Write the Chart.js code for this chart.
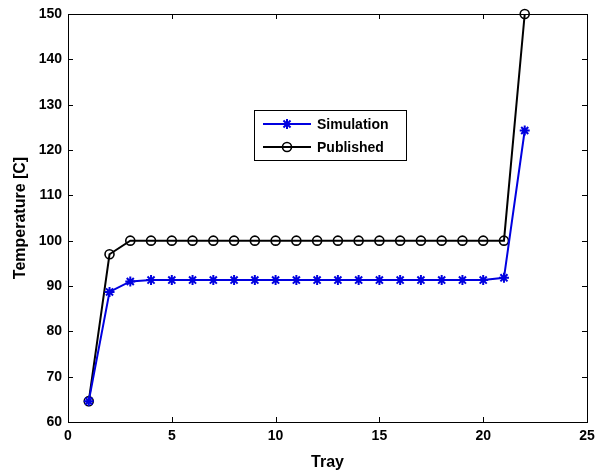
<!DOCTYPE html>
<html>
<head>
<meta charset="utf-8">
<script src="https://cdn.jsdelivr.net/npm/chart.js@4"></script>
<style>
    html, body { margin: 0; padding: 0; background: #fff; }
    canvas { display: block; }
</style>
</head>
<body>
<canvas id="chart" width="596" height="472"></canvas>
<script>
// data
const trays = [1, 2, 3, 4, 5, 6, 7, 8, 9, 10, 11, 12, 13, 14, 15, 16, 17, 18, 19, 20, 21, 22];
const simulation = [64.6, 88.7, 91.0, 91.3, 91.3, 91.3, 91.3, 91.3, 91.3, 91.3, 91.3,
    91.3, 91.3, 91.3, 91.3, 91.3, 91.3, 91.3, 91.3, 91.3, 91.8, 124.3];
const published = [64.6, 97, 100, 100, 100, 100, 100, 100, 100, 100, 100,
    100, 100, 100, 100, 100, 100, 100, 100, 100, 100, 150];
const seriesNames = ['Simulation', 'Published'];
const xTicks = [0, 5, 10, 15, 20, 25];
const yTicks = [60, 70, 80, 90, 100, 110, 120, 130, 140, 150];

const FONT = 'Liberation Sans, Arial, sans-serif';

// MATLAB-like box with inward ticks on every side
const boxTicks = {
    id: 'boxTicks',
    afterDatasetsDraw(chart) {
        const { ctx, chartArea: a, scales: { x, y } } = chart;
        const len = 5;
        ctx.save();
        ctx.strokeStyle = '#000';
        ctx.lineWidth = 1;
        ctx.beginPath();
        xTicks.forEach(v => {
            const px = Math.round(x.getPixelForValue(v)) + 0.5;
            ctx.moveTo(px, a.bottom); ctx.lineTo(px, a.bottom - len);
            ctx.moveTo(px, a.top); ctx.lineTo(px, a.top + len);
        });
        yTicks.forEach(v => {
            const py = Math.round(y.getPixelForValue(v)) + 0.5;
            ctx.moveTo(a.left, py); ctx.lineTo(a.left + len, py);
            ctx.moveTo(a.right, py); ctx.lineTo(a.right - len, py);
        });
        ctx.stroke();
        ctx.strokeRect(Math.round(a.left) + 0.5, Math.round(a.top) + 0.5,
            Math.round(a.right - a.left), Math.round(a.bottom - a.top));
        ctx.restore();
    }
};

// legend box inside the axes
const innerLegend = {
    id: 'innerLegend',
    afterDraw(chart) {
        const ctx = chart.ctx;
        const box = { x: 254.5, y: 110.5, w: 152, h: 50 };
        ctx.save();
        ctx.fillStyle = '#fff';
        ctx.fillRect(box.x, box.y, box.w, box.h);
        ctx.strokeStyle = '#000';
        ctx.lineWidth = 1;
        ctx.strokeRect(box.x, box.y, box.w, box.h);
        chart.data.datasets.forEach((ds, i) => {
            const cy = 124 + i * 23;
            ctx.strokeStyle = ds.borderColor;
            ctx.lineWidth = 2;
            ctx.beginPath();
            ctx.moveTo(263, cy); ctx.lineTo(311, cy);
            ctx.stroke();

            // drawPoint uses whatever stroke/fill is set on the context
            ctx.strokeStyle = ds.pointBorderColor;
            ctx.fillStyle = ds.pointBackgroundColor;
            ctx.lineWidth = ds.pointBorderWidth;
            Chart.helpers.drawPoint(ctx, {
                pointStyle: ds.pointStyle,
                radius: ds.pointRadius,
                borderWidth: ds.pointBorderWidth
            }, 287, cy);

            ctx.fillStyle = '#000';
            ctx.font = 'bold 14px ' + FONT;
            ctx.textBaseline = 'middle';
            ctx.fillText(ds.label, 317, cy + 1);
        });
        ctx.restore();
    }
};

new Chart(document.getElementById('chart'), {
    type: 'line',
    data: {
        labels: trays,
        datasets: [
            {
                label: seriesNames[0],
                data: trays.map((t, i) => ({ x: t, y: simulation[i] })),
                borderColor: '#0000e0',
                backgroundColor: '#0000e0',
                borderWidth: 2,
                pointStyle: 'star',
                pointRadius: 5,
                pointBorderWidth: 2,
                pointBorderColor: '#0000e0',
                pointBackgroundColor: '#0000e0',
                tension: 0
            },
            {
                label: seriesNames[1],
                data: trays.map((t, i) => ({ x: t, y: published[i] })),
                borderColor: '#000',
                backgroundColor: '#fff',
                borderWidth: 2,
                pointStyle: 'circle',
                pointRadius: 4.5,
                pointBorderWidth: 1.6,
                pointBorderColor: '#000',
                pointBackgroundColor: 'rgba(255,255,255,0)',
                tension: 0
            }
        ]
    },
    options: {
        responsive: false,
        animation: false,
        clip: false,
        layout: { padding: { left: 0, right: 9, top: 14, bottom: 0 } },
        plugins: {
            legend: { display: false },
            tooltip: { enabled: false }
        },
        scales: {
            x: {
                type: 'linear',
                min: 0,
                max: 25,
                afterBuildTicks: s => { s.ticks = xTicks.map(v => ({ value: v })); },
                afterFit: s => {
                    s.height = 50;
                    s.paddingLeft = 0;
                    s.paddingRight = 0;
                },
                grid: { display: false, drawTicks: false },
                border: { display: false },
                ticks: {
                    color: '#000',
                    padding: 6,
                    maxRotation: 0,
                    font: { family: FONT, size: 14, weight: 'bold' }
                },
                title: {
                    display: true,
                    text: 'Tray',
                    color: '#000',
                    padding: { top: 0, bottom: 0 },
                    font: { family: FONT, size: 16, weight: 'bold' }
                }
            },
            y: {
                min: 60,
                max: 150,
                afterBuildTicks: s => { s.ticks = yTicks.map(v => ({ value: v })); },
                afterFit: s => {
                    s.width = 68;
                    s.paddingTop = 0;
                    s.paddingBottom = 0;
                },
                grid: { display: false, drawTicks: false },
                border: { display: false },
                ticks: {
                    color: '#000',
                    padding: 6,
                    font: { family: FONT, size: 14, weight: 'bold' }
                },
                title: {
                    display: true,
                    text: 'Temperature [C]',
                    color: '#000',
                    padding: { top: 11, bottom: 0 },
                    font: { family: FONT, size: 16, weight: 'bold' }
                }
            }
        }
    },
    plugins: [boxTicks, innerLegend]
});
</script>
</body>
</html>
